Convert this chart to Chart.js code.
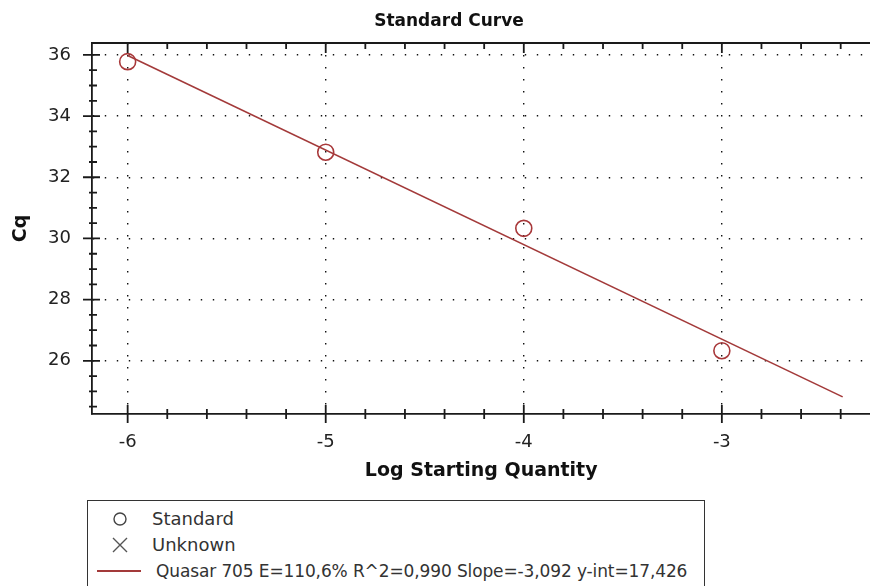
<!DOCTYPE html>
<html>
<head>
<meta charset="utf-8">
<script src="https://cdn.jsdelivr.net/npm/chart.js@4.4.0/dist/chart.umd.min.js"></script>
<style>
  body { margin: 0; background: #fff; }
  #wrap { position: relative; width: 870px; height: 586px; overflow: hidden; }
  #curve { position: absolute; left: 0; top: 0; }
  .title {
    position: absolute; left: 349px; width: 200px; top: 9px; text-align: center;
    font-family: 'DejaVu Sans', sans-serif; font-weight: bold; font-size: 17px; line-height: 22px; color: #111;
  }
  .legend {
    position: absolute; left: 87px; top: 500px; width: 618px; height: 110px;
    border: 1.5px solid #333; box-sizing: border-box;
    font-family: 'DejaVu Sans', sans-serif; font-size: 18px; color: #333;
  }
  .row { position: absolute; left: 0; height: 26px; line-height: 26px; white-space: nowrap; }
  .row svg { position: absolute; top: 0; }
  .row span { position: absolute; left: 64px; }
</style>
</head>
<body>
<div id="wrap">
  <canvas id="curve" width="880" height="490"></canvas>
  <div class="title">Standard Curve</div>
  <div class="legend">
    <div class="row" style="top:5px">
      <svg width="60" height="26" style="left:18px"><circle cx="14" cy="13" r="6" fill="none" stroke="#444" stroke-width="1.4"/></svg>
      <span>Standard</span>
    </div>
    <div class="row" style="top:31px">
      <svg width="60" height="26" style="left:18px"><path d="M7 6 L21 20 M21 6 L7 20" stroke="#555" stroke-width="1.4"/></svg>
      <span>Unknown</span>
    </div>
    <div class="row" style="top:57px">
      <svg width="60" height="26" style="left:8px"><path d="M1 13 L45 13" stroke="#a33a3a" stroke-width="2"/></svg>
      <span style="left:68px;font-size:17px;letter-spacing:-0.12px">Quasar 705 E=110,6% R^2=0,990 Slope=-3,092 y-int=17,426</span>
    </div>
  </div>
</div>
<script>
// standard wells (log starting quantity vs Cq)
const standardLog = [-6, -5, -4, -3];
const standardCq = [35.78, 32.82, 30.33, 26.33];

// regression line end points
const fitLog = [-6, -2.39];
const fitCq = [35.98, 24.82];

const xTicks = { min: -6.18, max: -2.25, step: 0.2 };
const yTicks = { min: 24.26, max: 36.39, step: 0.5 };

const isWhole = v => Math.abs(v - Math.round(v)) < 1e-6;
const isEven = v => isWhole(v) && Math.round(v) % 2 === 0;

// tick marks crossing the frame + top frame line
const frameTicks = {
  id: 'frameTicks',
  afterDraw(chart) {
    const { ctx, chartArea: a, scales: { x, y } } = chart;
    ctx.save();
    ctx.strokeStyle = '#1a1a1a';
    ctx.lineWidth = 1.8;
    ctx.beginPath();
    ctx.moveTo(a.left, a.top);
    ctx.lineTo(a.right, a.top);
    x.ticks.forEach(t => {
      const px = x.getPixelForValue(t.value);
      const big = isWhole(t.value);
      ctx.moveTo(px, a.bottom - (big ? 9 : 5));
      ctx.lineTo(px, a.bottom + (big ? 9 : 5));
      ctx.moveTo(px, a.top);
      ctx.lineTo(px, a.top + (big ? 10 : 6));
    });
    y.ticks.forEach(t => {
      const py = y.getPixelForValue(t.value);
      const big = isEven(t.value);
      ctx.moveTo(a.left - (big ? 9 : 3), py);
      ctx.lineTo(a.left + (big ? 8 : 5), py);
    });
    ctx.stroke();
    ctx.restore();
  }
};

const tickFont = { family: 'DejaVu Sans', size: 18 };
const titleFont = { family: 'DejaVu Sans', size: 19, weight: 'bold' };

new Chart(document.getElementById('curve'), {
  type: 'scatter',
  data: {
    datasets: [
      {
        label: 'Standard',
        data: standardLog.map((v, i) => ({ x: v, y: standardCq[i] })),
        pointStyle: 'circle',
        pointRadius: 8,
        pointBorderWidth: 1.6,
        borderColor: '#a8383a',
        backgroundColor: 'rgba(0,0,0,0)',
        showLine: false,
      },
      {
        label: 'Quasar 705',
        data: fitLog.map((v, i) => ({ x: v, y: fitCq[i] })),
        showLine: true,
        pointRadius: 0,
        borderColor: '#a33a3a',
        borderWidth: 1.6,
      },
    ],
  },
  options: {
    responsive: false,
    animation: false,
    layout: { padding: { top: 43, left: 0, right: 0, bottom: 0 } },
    plugins: {
      legend: { display: false },
      tooltip: { enabled: false },
      title: { display: false },
    },
    scales: {
      x: {
        type: 'linear',
        min: xTicks.min,
        max: xTicks.max,
        afterFit: s => { s.height = 76; },
        ticks: {
          stepSize: xTicks.step,
          includeBounds: false,
          autoSkip: false,
          maxRotation: 0,
          padding: 18,
          color: '#222',
          font: tickFont,
          callback: v => (isWhole(v) ? String(Math.round(v)) : ''),
        },
        grid: {
          drawTicks: false,
          lineWidth: 1.4,
          color: c => (c.tick && isWhole(c.tick.value) ? '#111' : 'rgba(0,0,0,0)'),
        },
        border: { display: true, color: '#1a1a1a', width: 1.8, dash: [1.4, 10.6] },
        title: {
          display: true,
          text: 'Log Starting Quantity',
          color: '#111',
          font: titleFont,
          padding: { top: 0, bottom: 7.6 },
        },
      },
      y: {
        type: 'linear',
        min: yTicks.min,
        max: yTicks.max,
        afterFit: s => { s.width = 92; },
        ticks: {
          stepSize: yTicks.step,
          includeBounds: false,
          autoSkip: false,
          padding: 21,
          color: '#222',
          font: tickFont,
          callback: v => (isEven(v) ? String(Math.round(v)) : ''),
        },
        grid: {
          drawTicks: false,
          lineWidth: 1.4,
          color: c => (c.tick && isEven(c.tick.value) ? '#111' : 'rgba(0,0,0,0)'),
        },
        border: { display: true, color: '#1a1a1a', width: 1.8, dash: [1.4, 10.6] },
        title: {
          display: true,
          text: 'Cq',
          color: '#111',
          font: titleFont,
          padding: { top: 9.6, bottom: 0 },
        },
      },
    },
  },
  plugins: [frameTicks],
});
</script>
</body>
</html>
